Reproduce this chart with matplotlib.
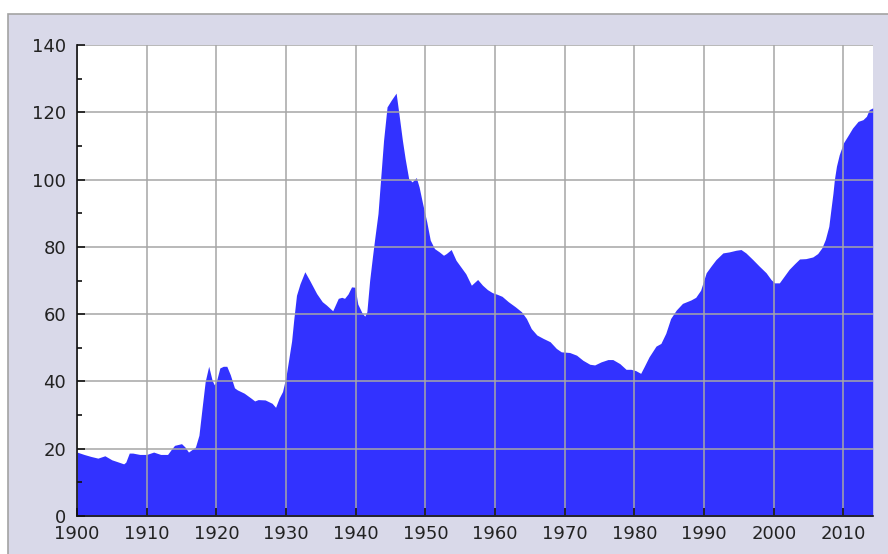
import matplotlib.pyplot as plt
from matplotlib.patches import Rectangle
from matplotlib.ticker import MultipleLocator

# values (year, value)
years = [
    1900, 1901, 1902, 1903, 1904, 1905, 1906, 1906.7, 1907, 1907.5, 1908, 1909,
    1910, 1911, 1912, 1913, 1913.5, 1914, 1915, 1915.5, 1916, 1917, 1917.5,
    1918, 1918.4, 1918.9, 1919.4, 1919.7, 1920, 1920.5, 1921, 1921.5, 1922,
    1922.6, 1923, 1924, 1925, 1925.5, 1926, 1927, 1928, 1928.5, 1929, 1929.5,
    1930, 1930.8, 1931.1, 1931.5, 1932, 1932.7, 1933.4, 1934.4, 1935.2,
    1935.8, 1936.7, 1937.5, 1938, 1938.4, 1938.9, 1939.4, 1939.9, 1940.3,
    1940.9, 1941.3, 1941.6, 1942, 1942.4, 1942.7, 1943.2, 1943.6, 1944,
    1944.5, 1945.1, 1945.8, 1946.2, 1946.7, 1947.1, 1947.6, 1948.1, 1948.7,
    1949.1, 1949.6, 1950.2, 1950.7, 1951.3, 1952, 1952.6, 1953, 1953.7,
    1954.4, 1955.1, 1955.8, 1956.6, 1957.5, 1958.2, 1958.9, 1959.6, 1960.3,
    1961, 1961.9, 1962.9, 1963.8, 1964.5, 1965.2, 1966, 1966.9, 1967.9,
    1968.8, 1969.5, 1970.7, 1971.7, 1972.6, 1973.6, 1974.3, 1975.2, 1976.2,
    1976.9, 1977.9, 1978.8, 1979.5, 1980.2, 1980.9, 1981.4, 1982.1, 1983.1,
    1983.8, 1984.5, 1985.2, 1986, 1986.9, 1988.1, 1988.8, 1989.5, 1990.3,
    1991, 1991.7, 1992.7, 1993.6, 1994.6, 1995.3, 1996, 1997, 1997.9, 1998.9,
    1999.6, 2000.1, 2000.8, 2001.5, 2002.2, 2003, 2003.7, 2004.6, 2005.6,
    2006.3, 2006.9, 2007.4, 2007.9, 2008.2, 2008.5, 2008.7, 2009, 2009.4,
    2010, 2010.6, 2011.3, 2012.1, 2012.8, 2013.3, 2013.7, 2014.2,
]
values = [
    19.0, 18.3, 17.7, 17.2, 17.9, 16.7, 16.0, 15.5, 16.0, 18.7, 18.7, 18.3,
    18.3, 19.0, 18.3, 18.3, 19.7, 21.0, 21.5, 20.5, 19.0, 20.5, 24.0,
    33.0, 40.0, 44.5, 40.3, 39.0, 40.0, 44.0, 44.5, 44.5, 42.0,
    38.1, 37.5, 36.5, 35.0, 34.2, 34.6, 34.5, 33.5, 32.3, 35.0, 37.0,
    41.5, 52.0, 58.2, 65.6, 69.0, 72.6, 70.0, 66.1, 63.7,
    62.7, 61.0, 64.7, 65.0, 64.7, 66.0, 68.1, 68.0, 63.0,
    60.4, 59.4, 60.7, 70.0, 77.0, 82.0, 89.9, 100.8, 111.7,
    121.6, 123.6, 125.7, 119.6, 111.7, 106.2, 100.3, 99.3, 100.6,
    97.8, 92.9, 87.4, 82.0, 79.5, 78.5, 77.5, 78.0, 79.2,
    76.0, 74.0, 72.0, 68.6, 70.3, 68.6, 67.3, 66.4, 65.9,
    65.3, 63.7, 62.2, 60.7, 58.7, 55.7, 53.8, 52.8, 51.8,
    49.8, 48.8, 48.6, 47.8, 46.3, 45.1, 44.9, 45.8, 46.5,
    46.5, 45.3, 43.6, 43.6, 43.2, 42.4, 44.4, 47.3, 50.5,
    51.3, 54.3, 58.7, 61.2, 63.2, 64.2, 65.0, 67.1, 72.3,
    74.3, 76.2, 78.2, 78.5, 79.0, 79.2, 78.2, 76.2, 74.3, 72.3,
    70.3, 69.3, 69.3, 71.3, 73.3, 75.0, 76.4, 76.5, 77.0,
    78.0, 79.7, 82.2, 86.1, 91.1, 96.0, 100.0, 104.0, 107.4,
    110.9, 112.9, 115.3, 117.3, 117.8, 118.8, 120.8, 121.3,
]

x_ticks = list(range(1900, 2011, 10))
y_ticks = list(range(0, 141, 20))

fig = plt.figure(figsize=(8.88, 5.54), dpi=100, facecolor="white")
# lavender panel with grey border (cropped at right/bottom)
fig.patches.append(Rectangle((8 / 888, -0.1), 1.2, 0.1 + 540 / 554,
                             transform=fig.transFigure, facecolor="#d9d9e9",
                             edgecolor="#a3a3a3", linewidth=1.2, zorder=-5))

ax = fig.add_axes([77 / 888, 38 / 554, (872.7 - 77) / 888, (516 - 45) / 554])
ax.set_facecolor("white")
ax.fill_between(years, values, 0, color="#3232ff", linewidth=0, zorder=1)

ax.set_xlim(1900, 2014.2)
ax.set_ylim(0, 140)
ax.set_xticks(x_ticks)
ax.set_yticks(y_ticks)
ax.yaxis.set_minor_locator(MultipleLocator(10))

ax.set_axisbelow(False)
ax.grid(True, which="major", color="#a6a6a6", linewidth=1.1)

for s in ["top", "right"]:
    ax.spines[s].set_visible(False)
for s in ["left", "bottom"]:
    ax.spines[s].set_color("#111111")
    ax.spines[s].set_linewidth(1.2)
    ax.spines[s].set_zorder(3)

ax.tick_params(axis="both", which="major", direction="in", length=6, width=1.2,
               color="#111111", labelsize=13, labelcolor="#222222")
ax.tick_params(axis="y", which="minor", direction="in", length=3.6, width=1.2,
               color="#111111")
ax.tick_params(axis="y", which="major", pad=8)
ax.tick_params(axis="x", which="major", pad=6.5)

plt.savefig("out.png", dpi=100)
